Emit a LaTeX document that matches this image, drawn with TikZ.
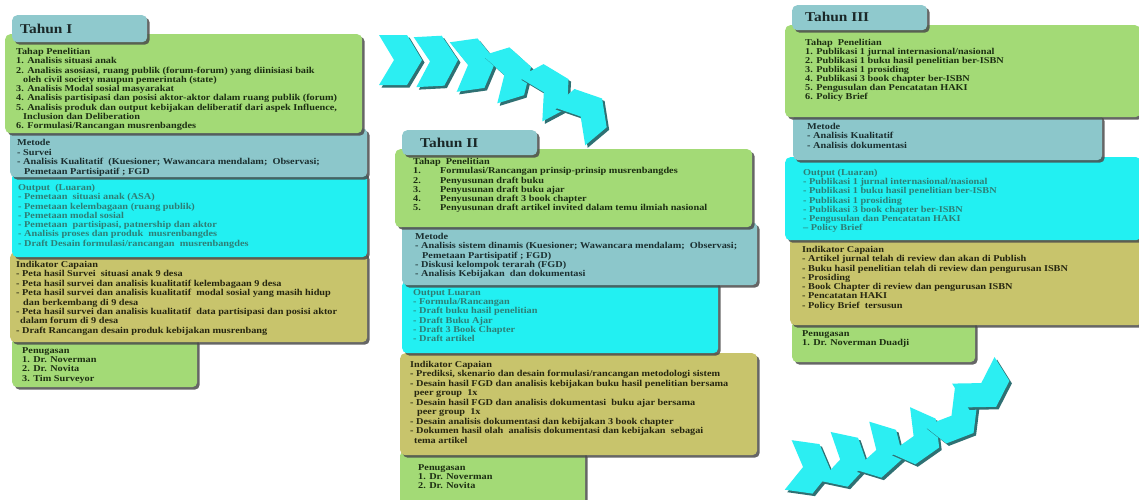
\documentclass[tikz,border=0pt]{standalone}
\usepackage{fontspec}
\setmainfont{Liberation Serif}[FakeStretch=1.14]
\usetikzlibrary{shadows}
\definecolor{tabc}{HTML}{8FC9CD}
\definecolor{greenc}{HTML}{A3DA76}
\definecolor{metc}{HTML}{8CC7CB}
\definecolor{outc}{HTML}{22F0F2}
\definecolor{indc}{HTML}{C8C46C}
\definecolor{chevc}{HTML}{2CEEF2}
\definecolor{chevsh}{HTML}{2F7073}
\definecolor{txtg}{HTML}{1C2E12}
\definecolor{txtm}{HTML}{1B2F30}
\definecolor{txto}{HTML}{2E7E76}
\definecolor{txti}{HTML}{262610}
\definecolor{tabtxt}{HTML}{1A2828}
\tikzset{
 panel/.style={rounded corners=5pt, inner sep=0pt, anchor=north west,
   drop shadow={shadow xshift=2.5pt, shadow yshift=-2.5pt, fill=black!70, opacity=0.85}},
 body/.style={anchor=north west, inner sep=0pt, align=left,
   font=\fontsize{9}{9.3}\selectfont\bfseries},
 tabtext/.style={anchor=west, inner sep=0pt, font=\fontsize{13.5}{14}\selectfont\bfseries, text=tabtxt},
}
\newcommand{\mychev}[3]{%
 \fill[chevsh, shift={(#1+2.5,#2+2.5)}, rotate=#3] (-22,-25)--(6,-25)--(21,0)--(6,25)--(-22,25)--(-7,0)--cycle;
 \fill[chevc, shift={(#1,#2)}, rotate=#3] (-22,-25)--(6,-25)--(21,0)--(6,25)--(-22,25)--(-7,0)--cycle;}
\newcommand{\ind}{\hspace*{7pt}}
\begin{document}
\begin{tikzpicture}[x=1pt,y=-1pt]
\fill[white] (0,0) rectangle (1139,499);
\useasboundingbox (0,0) rectangle (1139,499);

% ---------- chevrons top
\mychev{401}{60}{0}
\mychev{437}{61}{3}
\mychev{475}{64}{8}
\mychev{511}{73}{17}
\mychev{550}{89}{28}
\mychev{586}{112}{40}
% ---------- chevrons bottom
\mychev{810}{468}{-8}
\mychev{847}{461}{-12}
\mychev{883}{452}{-17}
\mychev{920}{439}{-24}
\mychev{957}{420}{-38}
\mychev{985}{389}{-58}

% ================= Column I
\node[panel, fill=greenc, minimum width=185pt, minimum height=50pt] (p1) at (12,337) {};
\node[panel, fill=indc, minimum width=357pt, minimum height=90pt] (i1) at (10,252) {};
\node[panel, fill=outc, minimum width=355pt, minimum height=85pt] (o1) at (12,172) {};
\node[panel, fill=metc, minimum width=357pt, minimum height=49pt] (m1) at (10,128) {};
\node[panel, fill=greenc, minimum width=357pt, minimum height=99pt] (g1) at (5,34) {};
\node[panel, fill=tabc, minimum width=135pt, minimum height=27pt] (t1) at (12,15) {};
\node[tabtext] (t1t) at (20,29) {Tahun I};

\node[body, text=txtg] (g1t) at (16,48) {Tahap Penelitian\\
1. Analisis situasi anak\\
2. Analisis asosiasi, ruang publik (forum-forum) yang diinisiasi baik\\
\ind oleh civil society maupun pemerintah (state)\\
3. Analisis Modal sosial masyarakat\\
4. Analisis partisipasi dan posisi aktor-aktor dalam ruang publik (forum)\\
5. Analisis produk dan output kebijakan deliberatif dari aspek Influence,\\
\ind Inclusion dan Deliberation\\
6. Formulasi/Rancangan musrenbangdes};

\node[body, text=txtm, font=\fontsize{9}{9.6}\selectfont\bfseries] (m1t) at (17,139) {Metode\\
- Survei\\
- Analisis Kualitatif\ \ (Kuesioner; Wawancara mendalam;\ \ Observasi;\\
\ind Pemetaan Partisipatif ; FGD};

\node[body, text=txto] (o1t) at (18,184) {Output\ \ (Luaran)\\
- Pemetaan\ \ situasi anak (ASA)\\
- Pemetaan kelembagaan (ruang publik)\\
- Pemetaan modal sosial\\
- Pemetaan\ \ partisipasi, patnership dan aktor\\
- Analisis proses dan produk\ \ musrenbangdes\\
- Draft Desain formulasi/rancangan\ \ musrenbangdes};

\node[body, text=txti, font=\fontsize{9}{9.4}\selectfont\bfseries] (i1t) at (16,261) {Indikator Capaian\\
- Peta hasil Survei\ \ situasi anak 9 desa\\
- Peta hasil survei dan analisis kualitatif kelembagaan 9 desa\\
- Peta hasil survei dan analisis kualitatif\ \ modal sosial yang masih hidup\\
\ind dan berkembang di 9 desa\\
- Peta hasil survei dan analisis kualitatif\ \ data partisipasi dan posisi aktor\\
\hspace*{4pt}dalam forum di 9 desa\\
- Draft Rancangan desain produk kebijakan musrenbang};

\node[body, text=txtg] (p1t) at (22,347) {Penugasan\\
1. Dr. Noverman\\
2. Dr. Novita\\
3. Tim Surveyor};

% ================= Column II
\node[panel, fill=greenc, minimum width=185pt, minimum height=55pt] (p2) at (400,450) {};
\node[panel, fill=indc, minimum width=357pt, minimum height=102pt] (i2) at (400,353) {};
\node[panel, fill=outc, minimum width=316pt, minimum height=73pt] (o2) at (402,280) {};
\node[panel, fill=metc, minimum width=355pt, minimum height=63pt] (m2) at (402,222) {};
\node[panel, fill=greenc, minimum width=357pt, minimum height=78pt] (g2) at (395,149) {};
\node[panel, fill=tabc, minimum width=135pt, minimum height=25pt] (t2) at (402,130) {};
\node[tabtext] (t2t) at (420,143) {Tahun II};

\node[body, text=txtg] (g2t) at (413,158) {Tahap\ \ Penelitian\\
\makebox[27pt][l]{1.}Formulasi/Rancangan prinsip-prinsip musrenbangdes\\
\makebox[27pt][l]{2.}Penyusunan draft buku\\
\makebox[27pt][l]{3.}Penyusunan draft buku ajar\\
\makebox[27pt][l]{4.}Penyusunan draft 3 book chapter\\
\makebox[27pt][l]{5.}Penyusunan draft artikel invited dalam temu ilmiah nasional};

\node[body, text=txtm] (m2t) at (415,233) {Metode\\
- Analisis sistem dinamis (Kuesioner; Wawancara mendalam;\ \ Observasi;\\
\ind Pemetaan Partisipatif ; FGD)\\
- Diskusi kelompok terarah (FGD)\\
- Analisis Kebijakan\ \ dan dokumentasi};

\node[body, text=txto] (o2t) at (413,289) {Output Luaran\\
- Formula/Rancangan\\
- Draft buku hasil penelitian\\
- Draft Buku Ajar\\
- Draft 3 Book Chapter\\
- Draft artikel};

\node[body, text=txti, font=\fontsize{9}{9.5}\selectfont\bfseries] (i2t) at (410,361) {Indikator Capaian\\
- Prediksi, skenario dan desain formulasi/rancangan metodologi sistem\\
- Desain hasil FGD dan analisis kebijakan buku hasil penelitian bersama\\
\hspace*{4pt}peer group\ \ 1x\\
- Desain hasil FGD dan analisis dokumentasi\ \ buku ajar bersama\\
\ind peer group\ \ 1x\\
- Desain analisis dokumentasi dan kebijakan 3 book chapter\\
- Dokumen hasil olah\ \ analisis dokumentasi dan kebijakan\ \ sebagai\\
\hspace*{4pt}tema artikel};

\node[body, text=txtg] (p2t) at (418,464) {Penugasan\\
1. Dr. Noverman\\
2. Dr. Novita};

% ================= Column III
\node[panel, fill=greenc, minimum width=183pt, minimum height=42pt] (p3) at (792,320) {};
\node[panel, fill=indc, minimum width=352pt, minimum height=88pt] (i3) at (790,237) {};
\node[panel, fill=outc, minimum width=356pt, minimum height=83pt] (o3) at (785,157) {};
\node[panel, fill=metc, minimum width=309pt, minimum height=46pt] (m3) at (793,114) {};
\node[panel, fill=greenc, minimum width=355pt, minimum height=92pt] (g3) at (785,25) {};
\node[panel, fill=tabc, minimum width=135pt, minimum height=25pt] (t3) at (792,5) {};
\node[tabtext] (t3t) at (805,17) {Tahun III};

\node[body, text=txtg, font=\fontsize{9}{9.0}\selectfont\bfseries] (g3t) at (805,39) {Tahap\ \ Penelitian\\
1. Publikasi 1 jurnal internasional/nasional\\
2. Publikasi 1 buku hasil penelitian ber-ISBN\\
3. Publikasi 1 prosiding\\
4. Publikasi 3 book chapter ber-ISBN\\
5. Pengusulan dan Pencatatan HAKI\\
6. Policy Brief};

\node[body, text=txtm, font=\fontsize{9}{9.5}\selectfont\bfseries] (m3t) at (807,123) {Metode\\
- Analisis Kualitatif\\
- Analisis dokumentasi};

\node[body, text=txto, font=\fontsize{9}{9.2}\selectfont\bfseries] (o3t) at (803,169) {Output (Luaran)\\
- Publikasi 1 jurnal internasional/nasional\\
- Publikasi 1 buku hasil penelitian ber-ISBN\\
- Publikasi 1 prosiding\\
- Publikasi 3 book chapter ber-ISBN\\
- Pengusulan dan Pencatatan HAKI\\
-- Policy Brief};

\node[body, text=txti, font=\fontsize{9}{9.3}\selectfont\bfseries] (i3t) at (802,246) {Indikator Capaian\\
- Artikel jurnal telah di review dan akan di Publish\\
- Buku hasil penelitian telah di review dan pengurusan ISBN\\
- Prosiding\\
- Book Chapter di review dan pengurusan ISBN\\
- Pencatatan HAKI\\
- Policy Brief\ \ tersusun};

\node[body, text=txtg] (p3t) at (802,330) {Penugasan\\
1. Dr. Noverman Duadji};
\end{tikzpicture}
\end{document}
